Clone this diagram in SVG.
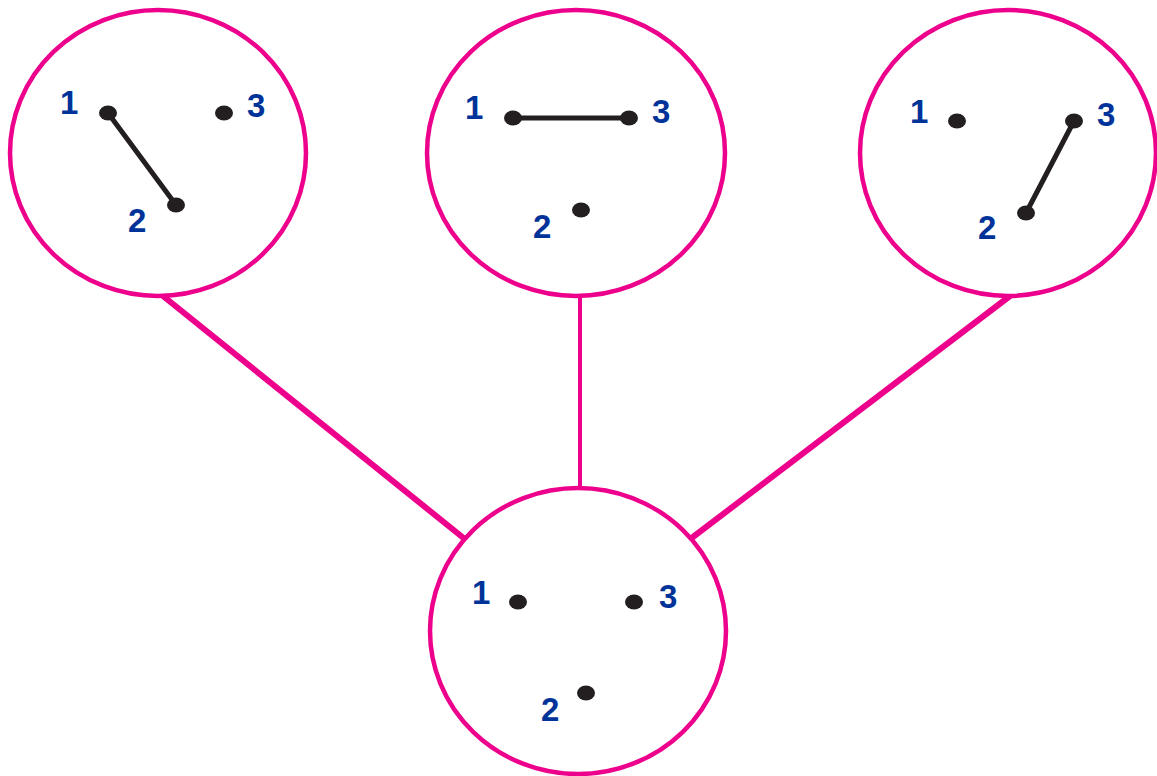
<svg xmlns="http://www.w3.org/2000/svg" width="1157" height="776" viewBox="0 0 1157 776">
<style>
.ring{fill:#fff;stroke:#ec008c;stroke-width:4.5}
.conn{stroke:#ec008c;fill:none}
.dot{fill:#231f20}
.edge{stroke:#231f20;stroke-width:5;stroke-linecap:round}
.lbl{font-family:"Liberation Sans",Arial,sans-serif;font-weight:bold;font-size:33px;fill:#003399}
</style>
<rect width="1157" height="776" fill="#fff"/>
<g id="connectors">
<line class="conn" x1="163" y1="296" x2="466" y2="540" stroke-width="6"/>
<line class="conn" x1="580" y1="296" x2="580" y2="495" stroke-width="4"/>
<line class="conn" x1="1010" y1="296" x2="689" y2="540" stroke-width="6"/>
</g>
<g id="node-left">
<ellipse class="ring" cx="158" cy="153" rx="148" ry="143"/>
<line class="edge" x1="108" y1="113" x2="176" y2="205"/>
<ellipse class="dot" cx="108" cy="113" rx="9" ry="7.5"/>
<ellipse class="dot" cx="224" cy="113" rx="9" ry="7.5"/>
<ellipse class="dot" cx="176" cy="205" rx="9" ry="7.5"/>
<text class="lbl" x="60" y="114">1</text>
<text class="lbl" x="247" y="117">3</text>
<text class="lbl" x="128" y="232">2</text>
</g>
<g id="node-middle">
<ellipse class="ring" cx="576" cy="153" rx="149" ry="143"/>
<line class="edge" x1="513" y1="118" x2="629" y2="118" stroke-width="4"/>
<ellipse class="dot" cx="513" cy="118" rx="9" ry="7.5"/>
<ellipse class="dot" cx="629" cy="118" rx="9" ry="7.5"/>
<ellipse class="dot" cx="581" cy="210" rx="9" ry="7.5"/>
<text class="lbl" x="465" y="119">1</text>
<text class="lbl" x="652" y="123">3</text>
<text class="lbl" x="533" y="238">2</text>
</g>
<g id="node-right">
<ellipse class="ring" cx="1008" cy="153" rx="148" ry="143"/>
<line class="edge" x1="1026" y1="213" x2="1074" y2="121"/>
<ellipse class="dot" cx="957" cy="121" rx="9" ry="7.5"/>
<ellipse class="dot" cx="1074" cy="121" rx="9" ry="7.5"/>
<ellipse class="dot" cx="1026" cy="213" rx="9" ry="7.5"/>
<text class="lbl" x="910" y="123">1</text>
<text class="lbl" x="1097" y="126">3</text>
<text class="lbl" x="978" y="239">2</text>
</g>
<g id="node-bottom">
<ellipse class="ring" cx="578" cy="631" rx="148" ry="143"/>
<ellipse class="dot" cx="518" cy="602" rx="9" ry="7.5"/>
<ellipse class="dot" cx="634" cy="602" rx="9" ry="7.5"/>
<ellipse class="dot" cx="586" cy="693" rx="9" ry="7.5"/>
<text class="lbl" x="472" y="604">1</text>
<text class="lbl" x="659" y="608">3</text>
<text class="lbl" x="541" y="721">2</text>
</g>
</svg>
